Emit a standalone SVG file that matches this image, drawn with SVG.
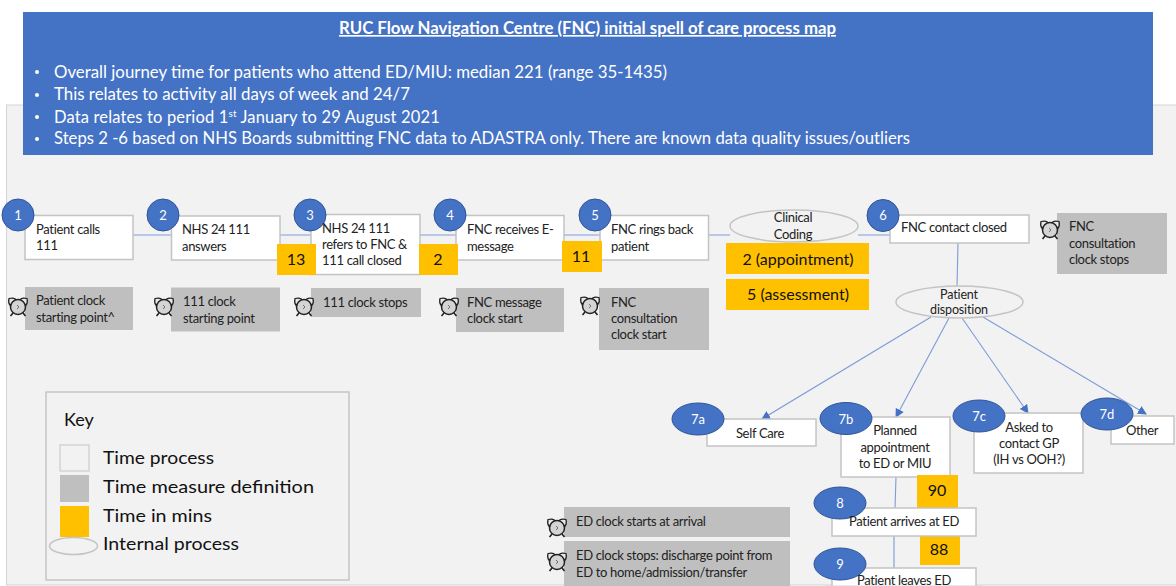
<svg xmlns="http://www.w3.org/2000/svg" xmlns:xlink="http://www.w3.org/1999/xlink" width="1176" height="586" viewBox="0 0 1176 586">
<style>
text{font-family:"Lato","Open Sans","Liberation Sans",sans-serif;fill:#222}
.t{font-size:13px;letter-spacing:-.33px}
.box{fill:#fff;stroke:#c4c4c4;stroke-width:1.5}
.grey{fill:#bfbfbf}
.org{fill:#ffc000}
.oval{fill:#f2f2f2;stroke:#c4c4c4;stroke-width:1.5}
.num{fill:#4472c4;stroke:#2f5597;stroke-width:1}
.n{font-size:13px;fill:#fff;text-anchor:middle}
.o{font-size:16px;text-anchor:middle;fill:#111}
.c{text-anchor:middle}
.h{fill:#fff;font-size:16.5px}
.k{font-size:18px;fill:#111}
.con{stroke:#7c9bd8;stroke-width:1.1;fill:none}
</style>
<defs>
<marker id="arr" markerUnits="userSpaceOnUse" markerWidth="10" markerHeight="10" refX="8" refY="4.5" orient="auto"><path d="M0 0L9 4.5L0 9Z" fill="#4472c4"/></marker>
<g id="clock"><path d="M-9-8.500Q-3-10-1.500-6.500L-8-1.500Q-10-4-9-8.500ZM9-8.500Q3-10 1.500-6.500L8-1.500Q10-4 9-8.500Z" fill="#e8e8e8" stroke="#222" stroke-width="1.2"/><path d="M-5 6L-7.500 9M5 6L7.500 9" stroke="#222" stroke-width="1.6"/><circle r="7.500" fill="#d4d4d4" stroke="#222" stroke-width="1.5"/><path d="M-1-2L1 0L-1 2" fill="none" stroke="#555" stroke-width=".8"/></g>
</defs>
<rect width="1176" height="586" fill="#fff"/>
<rect x="6.500" y="105" width="1172" height="480" fill="#f2f2f2" stroke="#d4d4d4"/>
<g id="header">
<rect x="23" y="12" width="1130" height="143" fill="#4472c4"/>
<text class="h" x="339" y="34" font-weight="700" text-decoration="underline" textLength="497" lengthAdjust="spacingAndGlyphs">RUC Flow Navigation Centre (FNC) initial spell of care process map</text>
<g fill="#fff"><circle cx="37" cy="72" r="2"/><circle cx="37" cy="95" r="2"/><circle cx="37" cy="117" r="2"/><circle cx="37" cy="139" r="2"/></g>
<text class="h" x="54" y="77.500" textLength="613" lengthAdjust="spacingAndGlyphs">Overall journey time for patients who attend ED/MIU: median 221 (range 35-1435)</text>
<text class="h" x="54" y="100" textLength="356" lengthAdjust="spacingAndGlyphs">This relates to activity all days of week and 24/7</text>
<text class="h" x="54" y="122.500" style="letter-spacing:.15px">Data relates to period 1<tspan font-size="10" dy="-6">st</tspan><tspan dy="6"> January to 29 August 2021</tspan></text>
<text class="h" x="54" y="144" textLength="856" lengthAdjust="spacingAndGlyphs">Steps 2 -6 based on NHS Boards submitting FNC data to ADASTRA only. There are known data quality issues/outliers</text>
</g>
<g id="connectors">
<path class="con" d="M133 235H171M280 235H311M420 235H456M564 235H600M709 235H730M858 235H890M958 243L957 286M896 477L895 508M894 536L894 568"/>
<path class="con" marker-end="url(#arr)" d="M931 317L762 419"/>
<path class="con" marker-end="url(#arr)" d="M949 318L896 417"/>
<path class="con" marker-end="url(#arr)" d="M962 318L1028 413"/>
<path class="con" marker-end="url(#arr)" d="M983 317L1146 414"/>
</g>
<g id="key">
<rect x="46" y="392" width="303" height="188" fill="none" stroke="#bdbdbd" stroke-width="1.3"/>
<text class="k" x="64" y="426">Key</text>
<rect x="60" y="445" width="29" height="26" fill="#f2f2f2" stroke="#c4c4c4"/>
<rect class="grey" x="60" y="475" width="29" height="27"/>
<rect class="org" x="60" y="506" width="29" height="31"/>
<ellipse class="oval" cx="73.500" cy="546" rx="24" ry="8.500"/>
<text class="k" x="103" y="464" textLength="111" lengthAdjust="spacingAndGlyphs">Time process</text>
<text class="k" x="103" y="493" textLength="211" lengthAdjust="spacingAndGlyphs">Time measure definition</text>
<text class="k" x="103" y="522" textLength="109" lengthAdjust="spacingAndGlyphs">Time in mins</text>
<text class="k" x="103" y="550" textLength="136" lengthAdjust="spacingAndGlyphs">Internal process</text>
</g>
<g id="node1"><rect class="box" x="25" y="215.500" width="108" height="44"/><circle class="num" cx="18" cy="215" r="16"/><text class="n" x="18" y="220">1</text><text class="t" x="36" y="234">Patient calls</text><text class="t" x="36" y="250">111</text></g>
<g id="node2"><rect class="box" x="171.500" y="216" width="108.500" height="44"/><circle class="num" cx="163" cy="215" r="16"/><text class="n" x="163" y="220">2</text><text class="t" x="182" y="234">NHS 24 111</text><text class="t" x="182" y="251">answers</text></g>
<g id="node3"><rect class="box" x="311" y="214.500" width="109" height="60"/><circle class="num" cx="310" cy="215" r="16"/><text class="n" x="310" y="220">3</text><text class="t" x="322" y="233">NHS 24 111</text><text class="t" x="322" y="249">refers to FNC &amp;</text><text class="t" x="322" y="265">111 call closed</text></g>
<g id="node4"><rect class="box" x="456" y="215.500" width="108" height="44.500"/><circle class="num" cx="450" cy="215" r="16"/><text class="n" x="450" y="220">4</text><text class="t" x="467" y="234">FNC receives E-</text><text class="t" x="467" y="251">message</text></g>
<g id="node5"><rect class="box" x="600" y="215.500" width="108.500" height="44.500"/><circle class="num" cx="595" cy="215" r="16"/><text class="n" x="595" y="220">5</text><text class="t" x="611" y="234">FNC rings back</text><text class="t" x="611" y="251">patient</text></g>
<g id="coding"><ellipse class="oval" cx="794" cy="226" rx="64" ry="16"/><text class="t c" x="793" y="222">Clinical</text><text class="t c" x="793" y="239">Coding</text></g>
<g id="node6"><rect class="box" x="890" y="215" width="139" height="28"/><circle class="num" cx="883" cy="215.500" r="16"/><text class="n" x="883" y="220">6</text><text class="t" x="901" y="232">FNC contact closed</text></g>
<g id="time13"><rect class="org" x="277" y="244" width="39" height="31"/><text class="o" x="296" y="265">13</text></g>
<g id="time2a"><rect class="org" x="419" y="244" width="39" height="31"/><text class="o" x="438" y="265">2</text></g>
<g id="time11"><rect class="org" x="562" y="241" width="40" height="31"/><text class="o" x="581" y="262">11</text></g>
<g id="timeAppt"><rect class="org" x="726" y="243" width="143" height="31"/><text class="o" x="798" y="265">2 (appointment)</text></g>
<g id="timeAssess"><rect class="org" x="726" y="279" width="143" height="31"/><text class="o" x="798" y="300">5 (assessment)</text></g>
<g id="def1"><rect class="grey" x="25" y="287" width="108" height="43"/><use xlink:href="#clock" href="#clock" x="18" y="307"/><text class="t" x="36" y="305">Patient clock</text><text class="t" x="36" y="322">starting point^</text></g>
<g id="def2"><rect class="grey" x="171" y="287.500" width="109" height="44"/><use xlink:href="#clock" href="#clock" x="164" y="307"/><text class="t" x="183" y="306">111 clock</text><text class="t" x="183" y="323">starting point</text></g>
<g id="def3"><rect class="grey" x="311" y="288" width="110" height="29"/><use xlink:href="#clock" href="#clock" x="304" y="307"/><text class="t" x="323" y="307">111 clock stops</text></g>
<g id="def4"><rect class="grey" x="456" y="288" width="108" height="44"/><use xlink:href="#clock" href="#clock" x="449" y="307"/><text class="t" x="467" y="307">FNC message</text><text class="t" x="467" y="323">clock start</text></g>
<g id="def5"><rect class="grey" x="599" y="288" width="110" height="62"/><use xlink:href="#clock" href="#clock" x="590" y="306"/><text class="t" x="611" y="307">FNC</text><text class="t" x="611" y="323">consultation</text><text class="t" x="611" y="339">clock start</text></g>
<g id="def6"><rect class="grey" x="1057" y="213" width="110" height="61"/><use xlink:href="#clock" href="#clock" x="1050" y="230"/><text class="t" x="1069" y="231">FNC</text><text class="t" x="1069" y="248">consultation</text><text class="t" x="1069" y="264">clock stops</text></g>
<g id="disposition"><ellipse class="oval" cx="959.500" cy="302" rx="63.500" ry="16"/><text class="t c" x="959" y="299" style="font-size:12.500px;letter-spacing:-.15px">Patient</text><text class="t c" x="959" y="314" style="font-size:12.500px;letter-spacing:-.15px">disposition</text></g>
<g id="node7a"><rect class="box" x="707" y="419" width="109" height="27"/><ellipse class="num" cx="698" cy="419" rx="26" ry="16"/><text class="n" x="698" y="424">7a</text><text class="t c" x="760" y="438">Self Care</text></g>
<g id="node7b"><rect class="box" x="841" y="417" width="109" height="60"/><ellipse class="num" cx="846" cy="418.500" rx="26" ry="16"/><text class="n" x="846" y="424">7b</text><text class="t c" x="895" y="435">Planned</text><text class="t c" x="895" y="452">appointment</text><text class="t c" x="895" y="468">to ED or MIU</text></g>
<g id="node7c"><rect class="box" x="974" y="413" width="109" height="60"/><ellipse class="num" cx="979" cy="416" rx="26" ry="16"/><text class="n" x="979" y="421">7c</text><text class="t c" x="1029" y="432">Asked to</text><text class="t c" x="1029" y="448">contact GP</text><text class="t c" x="1029" y="464">(IH vs OOH?)</text></g>
<g id="node7d"><rect class="box" x="1111" y="416" width="63" height="28"/><ellipse class="num" cx="1107" cy="414" rx="26" ry="16"/><text class="n" x="1107" y="419">7d</text><text class="t c" x="1142" y="435">Other</text></g>
<g id="time90"><rect class="org" x="917" y="475" width="41" height="33"/><text class="o" x="937" y="496">90</text></g>
<g id="time88"><rect class="org" x="920" y="536" width="40" height="29"/><text class="o" x="939" y="555">88</text></g>
<g id="node8"><rect class="box" x="832" y="508" width="144" height="28"/><ellipse class="num" cx="840" cy="503" rx="26" ry="16"/><text class="n" x="840" y="508">8</text><text class="t c" x="904" y="526">Patient arrives at ED</text></g>
<g id="node9"><rect class="box" x="832" y="568" width="144" height="24"/><rect x="826" y="585.500" width="156" height="1" fill="#d4d4d4"/><ellipse class="num" cx="840" cy="564" rx="26" ry="16"/><text class="n" x="840" y="569">9</text><text class="t c" x="904" y="585">Patient leaves ED</text></g>
<g id="defED1"><rect class="grey" x="564" y="507" width="226" height="30"/><use xlink:href="#clock" href="#clock" x="557" y="528"/><text class="t" x="576" y="526">ED clock starts at arrival</text></g>
<g id="defED2"><rect class="grey" x="564" y="541" width="226" height="45"/><use xlink:href="#clock" href="#clock" x="557" y="562"/><text class="t" x="576" y="560">ED clock stops: discharge point from</text><text class="t" x="576" y="577">ED to home/admission/transfer</text></g>
</svg>
